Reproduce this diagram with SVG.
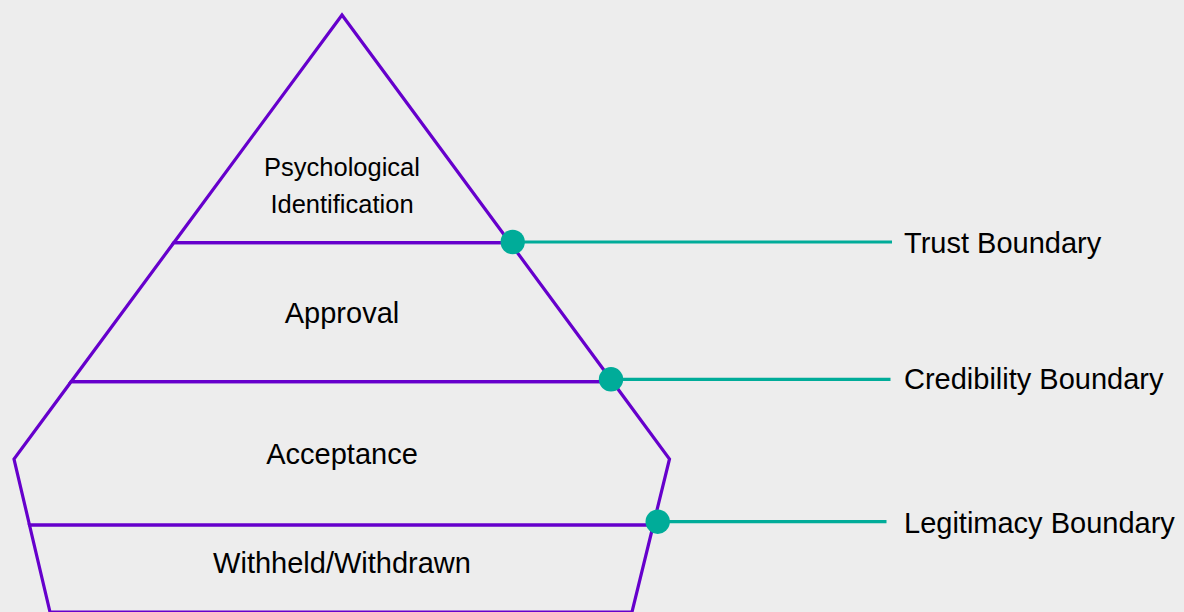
<svg xmlns="http://www.w3.org/2000/svg" width="1184" height="612" viewBox="0 0 1184 612">
  <style>
    .tier { fill: none; stroke: #6600cc; stroke-width: 3.2; stroke-linejoin: miter; stroke-miterlimit: 20; }
    .lbl { font-family: "Liberation Sans", Arial, sans-serif; font-size: 29px; fill: #000; text-anchor: middle; }
    .lbl-sm { font-size: 25.5px; }
    .blbl { font-family: "Liberation Sans", Arial, sans-serif; font-size: 29px; fill: #000; }
    .conn { stroke: #00ac99; stroke-width: 3.2; fill: none; }
    .dot { fill: #00ac99; }
  </style>
  <rect x="0" y="0" width="1184" height="612" fill="#ededed"/>

  <g id="tier-psychological-identification">
    <polygon class="tier" points="342,15 510,242.7 173.8,242.7"/>
    <text class="lbl lbl-sm" x="342" y="175.7">Psychological</text>
    <text class="lbl lbl-sm" x="342" y="212.7">Identification</text>
  </g>
  <g id="tier-approval">
    <polygon class="tier" points="173.8,242.7 510,242.7 612.5,381.7 71.1,381.7"/>
    <text class="lbl" x="342" y="322.7">Approval</text>
  </g>
  <g id="tier-acceptance">
    <polygon class="tier" points="71.1,381.7 612.5,381.7 669.5,459 653.3,525 29.5,525 14,459"/>
    <text class="lbl" x="342" y="464">Acceptance</text>
  </g>
  <g id="tier-withheld">
    <polygon class="tier" points="29.5,525 653.3,525 632,612 50,612"/>
    <text class="lbl" x="342" y="573.3">Withheld/Withdrawn</text>
  </g>

  <g id="connectors">
    <line class="conn" x1="512.7" y1="242" x2="892" y2="242"/>
    <line class="conn" x1="611" y1="379.3" x2="890.5" y2="379.3"/>
    <line class="conn" x1="657.7" y1="521.7" x2="886.5" y2="521.7"/>
    <circle class="dot" cx="512.7" cy="242" r="12.2"/>
    <circle class="dot" cx="611" cy="379.3" r="12.2"/>
    <circle class="dot" cx="657.7" cy="521.7" r="12.2"/>
  </g>

  <g id="label-trust">
    <text class="blbl" x="904" y="253.3">Trust Boundary</text>
  </g>
  <g id="label-credibility">
    <text class="blbl" x="904" y="389.3">Credibility Boundary</text>
  </g>
  <g id="label-legitimacy">
    <text class="blbl" x="904" y="533.3">Legitimacy Boundary</text>
  </g>
</svg>
